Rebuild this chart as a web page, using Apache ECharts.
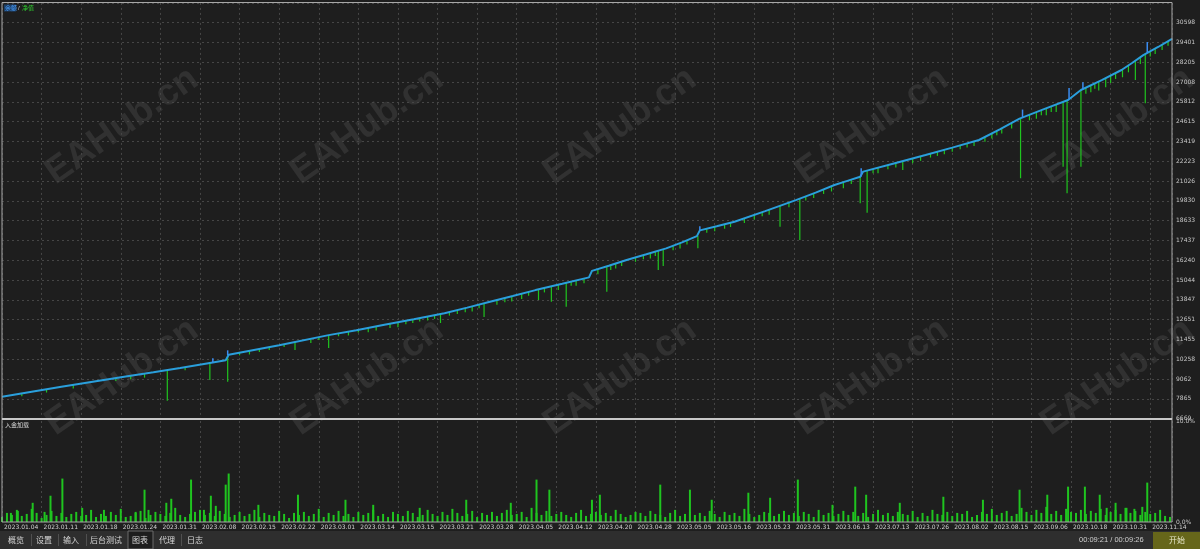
<!DOCTYPE html>
<html><head><meta charset="utf-8">
<script src="https://cdn.jsdelivr.net/npm/echarts@6/dist/echarts.min.js"></script>
<style>html,body{margin:0;padding:0;background:#1e1e1e;}#c{width:1200px;height:549px;}</style>
</head><body><div id="c"></div><script>
// ---- tick labels ----
const dateLabels = ['2023.01.04','2023.01.11','2023.01.18','2023.01.24','2023.01.31','2023.02.08','2023.02.15','2023.02.22','2023.03.01','2023.03.14','2023.03.15','2023.03.21','2023.03.28','2023.04.05','2023.04.12','2023.04.20','2023.04.28','2023.05.05','2023.05.16','2023.05.23','2023.05.31','2023.06.13','2023.07.13','2023.07.26','2023.08.02','2023.08.15','2023.09.06','2023.10.18','2023.10.31','2023.11.14'];
const yTickLabels = ['6669','7865','9062','10258','11455','12651','13847','15044','16240','17437','18633','19830','21026','22223','23419','24615','25812','27008','28205','29401','30598'];
const loadTickLabels = ['0.0%','10.0%'];

// ---- balance curve: [trade index, balance] ----
const balance = [[0,8000],[30,8300],[60,8600],[98,8965],[125,9215],[153,9470],[180,9735],[207,10010],[226,10200],[229,10530],[280,11110],[330,11720],[358,12020],[385,12330],[416,12680],[447,13040],[470,13380],[493,13740],[516,14085],[539,14440],[566,14820],[593,15210],[596,15600],[613,15915],[631,16260],[651,16605],[671,16960],[687,17320],[702,17700],[705,18050],[722,18300],[740,18570],[771,19210],[802,19880],[822,20330],[841,20790],[854,21040],[867,21290],[870,21600],[901,22090],[933,22600],[960,23050],[987,23510],[1008,24150],[1028,24800],[1052,25360],[1077,25930],[1090,26530],[1111,27130],[1131,27740],[1142,28180],[1153,28640],[1168,29130],[1182,29620]];

// ---- equity drawdowns: [trade index, equity top, equity low] ----
const equityDips = [[20,8200,8020],[45,8450,8250],[72,8715,8500],[115,9120,8950],[130,9270,9050],[144,9390,9150],[167,9610,7760],[185,9790,9600],[210,10040,9010],[228,10450,8900],
[240,10660,10500],[250,10780,10550],[260,10900,10700],[270,11010,10820],[285,11190,11000],[296,11320,10820],[312,11510,11250],[320,11600,11420],[330,11720,10940],
[340,11830,11650],[350,11940,11700],[360,12050,11880],[370,12160,11900],[378,12250,12000],[392,12410,12150],[400,12500,12200],[408,12600,12380],[415,12680,12450],[422,12760,12550],[430,12850,12600],[437,12930,12700],[443,13000,12450],
[452,13115,12900],[460,13240,13000],[468,13360,13100],[475,13470,13150],[482,13570,13350],[487,13650,12820],[500,13850,13550],[508,13970,13700],[515,14070,13750],[525,14230,13900],[532,14330,14100],
[542,14480,13840],[548,14570,14300],[555,14670,13740],[562,14770,14450],[570,14880,13440],[575,14950,14700],[580,15020,14700],[588,15140,14850],
[602,15710,15400],[611,15880,14340],[615,15960,15650],[620,16050,15750],[626,16170,15900],[640,16420,16150],[648,16560,16300],[655,16680,16350],[660,16770,16500],[663,16820,15660],[668,16910,15900],
[678,17130,16850],[685,17290,16950],[692,17460,17200],[703,17720,16970],[712,18150,17900],[720,18270,18000],[730,18420,18150],[736,18510,18250],
[750,18780,18500],[760,18990,18700],[768,19160,18900],[775,19300,19000],[786,19540,18270],[795,19730,19450],[806,19970,17470],[812,20110,19850],[820,20300,20000],[830,20530,20250],[838,20720,20400],[850,20960,20600],[858,21120,20850],
[867,21290,19690],[874,21660,19120],[880,21760,21500],[885,21840,21500],[895,22000,21750],[903,22120,21850],[910,22240,21700],[920,22390,22100],[928,22520,22250],
[938,22680,22450],[945,22800,22550],[952,22920,22650],[960,23060,22800],[968,23190,22950],[975,23310,23050],[982,23420,23150],
[993,23700,23400],[1000,23920,23600],[1005,24080,23800],[1010,24240,23900],[1020,24550,24200],[1029,24820,21200],
[1038,25030,24700],[1045,25190,24800],[1050,25310,25000],[1055,25420,25000],[1060,25540,25200],[1065,25650,25200],[1072,25810,21900],[1076,25900,20290],[1090,26530,21900],
[1095,26680,26300],[1100,26825,26400],[1104,26950,26600],[1108,27060,26500],[1115,27270,26700],[1120,27420,26950],[1125,27570,27200],[1132,27780,27300],
[1138,28030,27600],[1145,28310,27140],[1150,28520,28100],[1155,28720,25730],[1160,28880,28550],[1165,29050,28700],[1172,29290,28950],[1178,29490,29200]];

// ---- balance upward spikes: [trade index, low, high] ----
const balanceSpikes = [[213,10070,10320],[228,10500,10800],[705,18050,18300],[868,21300,21800],[1031,24880,25350],[1078,25950,26650],[1092,26580,27000],[1157,28780,29430]];

// ---- deposit load (%) : base level every 5 trades, then spikes ----
const loadBase = [0.5,0.9,0.7,1.2,0.6,0.8,1.3,0.9,0.4,0.7,1.1,0.6,0.9,0.5,0.8,1.0,0.6,0.7,1.2,0.5,
0.8,0.6,1.0,0.7,1.3,0.5,0.6,0.9,1.1,0.4,0.7,1.0,0.8,0.6,0.9,1.4,0.7,0.5,0.8,1.0,
1.2,0.7,0.9,0.6,1.1,0.8,0.5,0.7,1.0,0.6,0.8,1.2,0.5,0.9,0.7,0.6,1.1,0.8,0.4,0.9,
0.7,1.0,0.6,0.8,1.3,0.5,0.9,0.7,1.1,0.6,0.8,0.5,1.0,0.7,0.9,1.2,0.6,0.8,0.5,1.0,
0.8,0.6,1.1,0.9,0.5,0.7,1.2,0.8,0.6,1.0,0.7,1.3,0.9,0.6,0.8,1.1,0.5,0.9,0.7,1.0,
0.6,0.9,1.2,0.7,0.8,1.0,0.5,1.4,0.9,0.7,1.1,0.6,0.8,1.0,0.7,0.5,0.9,1.2,0.6,0.8,
1.0,0.7,0.9,0.6,1.2,0.8,0.5,0.7,1.0,0.9,0.6,1.1,0.8,0.7,0.5,0.9,1.2,0.6,0.8,1.0,
0.7,0.9,0.6,1.1,0.8,0.5,1.0,0.7,0.9,0.6,1.3,0.8,0.5,0.7,1.0,0.9,0.6,0.8,1.1,0.7,
0.9,0.6,1.0,0.8,0.5,1.2,0.7,0.9,0.6,0.8,1.1,0.7,1.0,0.6,0.9,0.5,0.8,1.2,0.7,0.9,
0.6,1.0,0.8,0.7,1.1,0.5,0.9,0.6,1.2,0.8,0.7,1.0,0.6,0.9,0.8,1.1,0.5,0.7,1.0,0.8,
1.3,0.7,0.9,1.1,0.6,0.8,1.4,1.0,0.7,1.2,0.9,1.5,0.8,1.1,0.7,1.3,1.0,0.9,1.2,0.8,
1.1,0.9,1.3,0.7,1.0,1.2,0.8,1.4,0.9,1.1,0.7,1.0,0.8,0.9,1.2,0.6,0.5];
const loadSpikes = [[9,0.9],[16,1.1],[31,1.9],[43,1.0],[49,2.6],[61,4.3],[81,1.4],[103,1.2],[135,1.0],[144,3.2],[148,1.2],[166,1.9],[171,2.3],[191,4.2],[204,1.2],[211,2.6],[216,1.6],[226,3.7],[229,4.8],[259,1.7],[299,2.7],[347,2.2],[375,1.7],[422,1.4],[469,2.2],[514,1.9],[540,4.2],[553,3.2],[596,2.2],[604,2.7],[665,3.7],[695,3.2],[717,2.2],[754,2.9],[776,2.4],[804,4.2],[839,1.7],[862,3.5],[873,2.7],[907,1.9],[951,2.5],[991,2.2],[1028,3.2],[1056,2.7],[1077,3.5],[1094,3.5],[1109,2.7],[1116,1.4],[1125,1.9],[1136,1.4],[1144,1.3],[1152,1.5],[1157,3.9]];

// ---- axis settings ----
const X_MAX = 1182, X_STEP = 40;
const Y_MIN = 6669, Y_STEP = 1196.45, Y_STEPS = 21;

const GREEN = '#1fc41f', BLUE = '#2a9fdc';
const gridColor = '#464646';

function stick(color, w) {
  return function (params, api) {
    const a = api.coord([api.value(0), api.value(1)]);
    const b = api.coord([api.value(0), api.value(2)]);
    return {type: 'line', shape: {x1: a[0], y1: a[1], x2: b[0], y2: b[1]}, style: {stroke: color, lineWidth: w}};
  };
}

const chart = echarts.init(document.getElementById('c'), null, {renderer: 'canvas'});

const watermarkPos = [[122,126],[367,126],[620,126],[872,126],[1117,126],[122,377],[367,377],[620,377],[872,377],[1117,377]];
const graphics = [];
watermarkPos.forEach(p => graphics.push({type: 'text', x: p[0], y: p[1], rotation: 0.61, silent: true, z: 0,
  style: {text: 'EAHub.cn', fill: 'rgba(255,255,255,0.085)', font: 'bold 37px "Liberation Sans", Arial, sans-serif', textAlign: 'center', textVerticalAlign: 'middle'}}));
// panel borders
graphics.push({type: 'rect', shape: {x: 2, y: 2.5, width: 1170, height: 519.5}, style: {fill: 'none', stroke: '#a8a8a8', lineWidth: 1}, silent: true, z: 10});
graphics.push({type: 'rect', shape: {x: 2, y: 418, width: 1170, height: 2}, style: {fill: '#c8c8c8'}, silent: true, z: 10});
// legend
graphics.push({type: 'rect', shape: {x: 4, y: 4.5, width: 12, height: 7}, style: {fill: '#1d3f66'}, z: 19});
graphics.push({type: 'text', x: 5, y: 8, style: {text: '余额', fill: '#4aa0ff', font: '6px "Noto Sans CJK SC", sans-serif', textVerticalAlign: 'middle'}, z: 20});
graphics.push({type: 'text', x: 18, y: 8, style: {text: '/', fill: '#cccccc', font: '6px sans-serif', textVerticalAlign: 'middle'}, z: 20});
graphics.push({type: 'text', x: 22, y: 8, style: {text: '净值', fill: '#2fd02f', font: '6px "Noto Sans CJK SC", sans-serif', textVerticalAlign: 'middle'}, z: 20});
graphics.push({type: 'text', x: 5, y: 425, style: {text: '入金加载', fill: '#dddddd', font: '6px "Noto Sans CJK SC", sans-serif', textVerticalAlign: 'middle'}, z: 20});
// bottom tab bar
graphics.push({type: 'rect', shape: {x: 0, y: 531, width: 1200, height: 18}, style: {fill: '#2e2e2e'}, silent: true, z: 5});
graphics.push({type: 'rect', shape: {x: 128, y: 531, width: 25, height: 18}, style: {fill: '#1e1e1e', stroke: '#6a6a6a', lineWidth: 1}, silent: true, z: 6});
const tabs = [['概览',16],['设置',44],['输入',71],['后台测试',106],['图表',140],['代理',167],['日志',195]];
tabs.forEach(t => graphics.push({type: 'text', x: t[1], y: 540, style: {text: t[0], fill: '#d6d6d6', font: '8px "Noto Sans CJK SC", sans-serif', textAlign: 'center', textVerticalAlign: 'middle'}, z: 7}));
[31,58,86,181].forEach(x => graphics.push({type: 'rect', shape: {x: x, y: 534, width: 1, height: 12}, style: {fill: '#505050'}, z: 7}));
graphics.push({type: 'text', x: 1079, y: 540, style: {text: '00:09:21 / 00:09:26', fill: '#cfcfcf', font: '7.5px "Liberation Sans", sans-serif', textVerticalAlign: 'middle'}, z: 7});
graphics.push({type: 'rect', shape: {x: 1153, y: 532, width: 47, height: 17}, style: {fill: '#66661a'}, z: 7});
graphics.push({type: 'text', x: 1177, y: 540, style: {text: '开始', fill: '#e6e6c8', font: '8px "Noto Sans CJK SC", sans-serif', textAlign: 'center', textVerticalAlign: 'middle'}, z: 8});

const splitStyle = {show: true, lineStyle: {color: gridColor, type: [2, 3], width: 1}};

chart.setOption({
  backgroundColor: '#1e1e1e',
  animation: false,
  graphic: graphics,
  grid: [
    {left: 2, top: 2.9, width: 1170, height: 415.8, show: false},
    {left: 2, top: 421, width: 1170, height: 101, show: false}
  ],
  xAxis: [
    {gridIndex: 0, type: 'value', min: 0, max: X_MAX, interval: X_STEP, axisLine: {show: false}, axisTick: {show: false}, axisLabel: {show: false}, splitLine: splitStyle},
    {gridIndex: 1, type: 'value', min: 0, max: X_MAX, interval: X_STEP, axisLine: {show: false}, axisTick: {show: false}, splitLine: splitStyle,
      axisLabel: {color: '#d0d0d0', fontSize: 6, margin: 2, align: 'left', padding: [0, 0, 0, 2], fontFamily: 'DejaVu Sans',
        formatter: v => { const k = v / X_STEP; return Number.isInteger(k) && dateLabels[k] ? dateLabels[k] : ''; }}}
  ],
  yAxis: [
    {gridIndex: 0, type: 'value', position: 'right', min: Y_MIN, max: Y_MIN + Y_STEPS * Y_STEP, interval: Y_STEP,
      axisLine: {show: false}, axisTick: {show: false}, splitLine: splitStyle,
      axisLabel: {color: '#c8c8c8', fontSize: 6, margin: 4, fontFamily: 'DejaVu Sans',
        formatter: v => { const k = Math.round((v - Y_MIN) / Y_STEP); return yTickLabels[k] || ''; }}},
    {gridIndex: 1, type: 'value', position: 'right', min: 0, max: 10, interval: 10,
      axisLine: {show: false}, axisTick: {show: false}, splitLine: {show: false},
      axisLabel: {color: '#c8c8c8', fontSize: 6, margin: 4, fontFamily: 'DejaVu Sans',
        formatter: v => loadTickLabels[Math.round(v / 10)] || ''}}
  ],
  series: [
    {type: 'custom', name: '净值', xAxisIndex: 0, yAxisIndex: 0, renderItem: stick(GREEN, 1.2), encode: {x: 0, y: [1, 2]}, data: equityDips, z: 2, silent: true},
    {type: 'line', name: '余额', xAxisIndex: 0, yAxisIndex: 0, data: balance, showSymbol: false, smooth: false, lineStyle: {color: BLUE, width: 2}, z: 3, silent: true},
    {type: 'custom', name: '余额峰', xAxisIndex: 0, yAxisIndex: 0, renderItem: stick('#3a8cf0', 1.5), encode: {x: 0, y: [1, 2]}, data: balanceSpikes, z: 4, silent: true},
    {type: 'bar', name: '入金加载', xAxisIndex: 1, yAxisIndex: 1, data: loadBase.map((v, i) => [i * 5, v]), barWidth: 2, itemStyle: {color: GREEN}, silent: true, barGap: '-100%'},
    {type: 'bar', name: '入金加载峰', xAxisIndex: 1, yAxisIndex: 1, data: loadSpikes, barWidth: 2, itemStyle: {color: GREEN}, silent: true, barGap: '-100%'}
  ]
});
</script></body></html>
